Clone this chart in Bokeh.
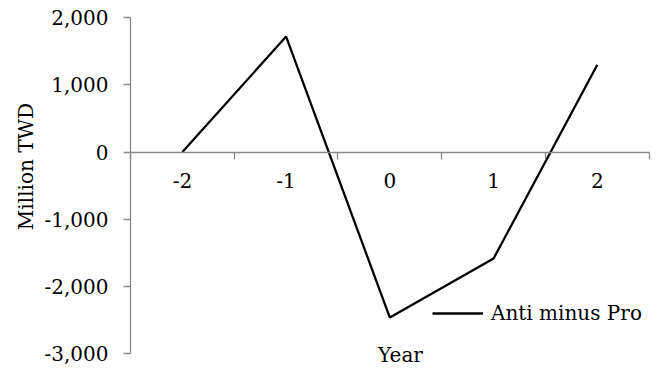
from math import pi
from bokeh.plotting import figure
from bokeh.models import (Range1d, FixedTicker, NumeralTickFormatter, Label,
                          CustomJSTickFormatter)
from bokeh.embed import file_html
from bokeh.resources import INLINE

# ---- data ----
years = [-2, -1, 0, 1, 2]
anti_minus_pro = [0, 1720, -2465, -1585, 1300]
y_ticks = [-3000, -2000, -1000, 0, 1000, 2000]
series_name = "Anti minus Pro"
x_title = "Year"
y_title = "Million TWD"

FONT = "DejaVu Serif"
FS = "20px"
AXIS_GRAY = "#898989"

W, H = 658, 368
# plot-area placement in pixels (left, right, top, bottom)
PL, PR, PT, PB = 130.0, 648.7, 17.3, 353.0
xlo, xhi = years[0] - 0.5, years[-1] + 0.5
ylo, yhi = y_ticks[0], y_ticks[-1]
sx = (PR - PL) / (xhi - xlo)
sy = (PB - PT) / (yhi - ylo)
x_range = Range1d(xlo - PL / sx, xlo - PL / sx + W / sx)
y_range = Range1d(ylo - (H - PB) / sy, yhi + PT / sy)


def px_x(px):
    return xlo + (px - PL) / sx


def px_y(py):
    return yhi - (py - PT) / sy


p = figure(width=W, height=H, output_backend="svg", toolbar_location=None,
           x_range=x_range, y_range=y_range,
           min_border=0, min_border_left=0, min_border_right=0,
           min_border_top=0, min_border_bottom=0)
p.outline_line_color = None
p.xgrid.visible = False
p.ygrid.visible = False
p.background_fill_color = "white"
p.border_fill_color = "white"

# y axis at the left edge of the category span
yax = p.yaxis[0]
yax.fixed_location = xlo
yax.bounds = (ylo, yhi)
yax.ticker = FixedTicker(ticks=y_ticks)
yax.formatter = NumeralTickFormatter(format="0,0")
yax.axis_line_color = AXIS_GRAY
yax.axis_line_width = 1.3
yax.major_tick_line_color = AXIS_GRAY
yax.major_tick_line_width = 1.3
yax.major_tick_out = 7
yax.major_tick_in = 0
yax.minor_tick_line_color = None
yax.major_label_standoff = 15
yax.major_label_text_font = FONT
yax.major_label_text_font_size = FS
yax.major_label_text_color = "black"

# x axis crossing at y = 0
xax = p.xaxis[0]
xax.fixed_location = 0
xax.bounds = (xlo, xhi)
xax.ticker = FixedTicker(ticks=years,
                         minor_ticks=[y - 0.5 for y in years] + [years[-1] + 0.5])
xax.formatter = CustomJSTickFormatter(code="return tick.toString()")
xax.axis_line_color = AXIS_GRAY
xax.axis_line_width = 1.3
xax.major_tick_line_color = None
xax.major_tick_out = 0
xax.major_tick_in = 0
xax.minor_tick_line_color = AXIS_GRAY
xax.minor_tick_line_width = 1.3
xax.minor_tick_out = 7
xax.minor_tick_in = 0
xax.major_label_standoff = 14
xax.major_label_text_font = FONT
xax.major_label_text_font_size = FS
xax.major_label_text_color = "black"

# series
p.line(years, anti_minus_pro, line_color="black", line_width=2.3,
       legend_label=series_name)

leg = p.legend[0]
leg.location = (432, H - 313 - 12)
leg.border_line_color = None
leg.background_fill_alpha = 0
leg.padding = 0
leg.margin = 0
leg.glyph_width = 51
leg.glyph_height = 20
leg.label_standoff = 8
leg.label_text_font = FONT
leg.label_text_font_size = FS
leg.label_text_color = "black"

# axis titles
p.add_layout(Label(x=px_x(25), y=px_y(166), text=y_title, angle=pi / 2,
                   text_align="center", text_baseline="middle",
                   text_font=FONT, text_font_size=FS, text_color="black"))
p.add_layout(Label(x=px_x(400), y=px_y(354), text=x_title,
                   text_align="center", text_baseline="middle",
                   text_font=FONT, text_font_size=FS, text_color="black"))

open("out.html", "w").write(file_html(p, INLINE))
